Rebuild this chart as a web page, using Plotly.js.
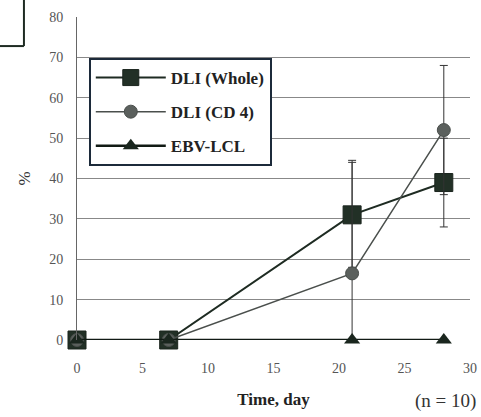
<!DOCTYPE html>
<html><head><meta charset="utf-8">
<script src="https://cdn.plot.ly/plotly-3.0.1.min.js"></script>
<style>html,body{margin:0;padding:0;background:#fff}#chart{width:481px;height:417px}</style>
</head><body><div id="chart"></div>
<script>
const days = [0, 7, 21, 28];
const dliWhole = [0, 0, 31, 39];
const dliWholeErr = [0, 0, 13, 11];
const dliCD4 = [0, 0, 16.5, 52];
const dliCD4Err = [0, 0, 28, 16];
const ebvLCL = [0, 0, 0, 0];
const names = ['DLI (Whole)', 'DLI (CD 4)', 'EBV-LCL'];

const serif = 'Liberation Serif, Times New Roman, serif';
const traces = [
  {x: days, y: dliWhole, name: names[0], legendgroup: 'a', mode: 'lines+markers', cliponaxis: false,
   line: {color: '#1e2b22', width: 2},
   marker: {symbol: 'square', size: 18, color: '#223026', line: {color: '#1a241d', width: 1}},
   error_y: {type: 'data', array: dliWholeErr, color: '#333', thickness: 1, width: 4}},
  {x: days, y: dliCD4, name: names[1], legendgroup: 'b', mode: 'lines+markers', cliponaxis: false,
   line: {color: '#4a4f4c', width: 1.5},
   marker: {symbol: 'circle', size: 13, color: '#5b605d', line: {color: '#4a4f4c', width: 1}},
   error_y: {type: 'data', array: dliCD4Err, color: '#333', thickness: 1, width: 4}},
  {x: days, y: ebvLCL, name: names[2], legendgroup: 'c', mode: 'lines+markers', cliponaxis: false,
   line: {color: '#111a14', width: 2.5},
   marker: {symbol: 'triangle-up', size: 14, color: '#1a261e'}}
];

const layout = {
  width: 481, height: 417,
  margin: {l: 77, r: 11, t: 17, b: 77},
  paper_bgcolor: '#fff', plot_bgcolor: '#fff',
  showlegend: true,
  legend: {x: 0.03, y: 0.873, xanchor: 'left', yanchor: 'top',
    bgcolor: '#fff', bordercolor: '#1c2a3a', borderwidth: 2,
    traceorder: 'grouped', tracegroupgap: 9, itemwidth: 70, itemsizing: 'trace',
    font: {family: serif, size: 17, color: '#222', weight: 'bold'}},
  xaxis: {range: [0, 30], tickvals: [0, 5, 10, 15, 20, 25, 30], showgrid: false, zeroline: false,
    showline: false, ticks: '', ticklabelstandoff: 18, tickfont: {family: serif, size: 14, color: '#555'},
    title: {text: '<b>Time, day</b>', font: {family: serif, size: 17, color: '#222'}, standoff: 18}},
  yaxis: {range: [0, 80], dtick: 10, showgrid: true, gridcolor: '#888', gridwidth: 1,
    zeroline: false, showline: true, linecolor: '#666', linewidth: 1, ticks: '',
    tickfont: {family: serif, size: 14, color: '#555'}, ticklabelstandoff: 10,
    title: {text: '%', font: {family: serif, size: 17, color: '#333'}, standoff: 14}},
  annotations: [{xref: 'paper', yref: 'paper', x: 1.02, y: -0.19, xanchor: 'right', yanchor: 'middle',
    text: '(n = 10)', showarrow: false, font: {family: serif, size: 19, color: '#333'}}],
  shapes: [
    {type: 'line', xref: 'paper', yref: 'paper', x0: -0.135, x1: -0.135, y0: 0.91, y1: 1.06, line: {color: '#1e2b22', width: 2}},
    {type: 'line', xref: 'paper', yref: 'paper', x0: -0.2, x1: -0.135, y0: 0.91, y1: 0.91, line: {color: '#1e2b22', width: 2}}
  ]
};
Plotly.newPlot('chart', traces, layout, {displayModeBar: false, staticPlot: true});
</script></body></html>
